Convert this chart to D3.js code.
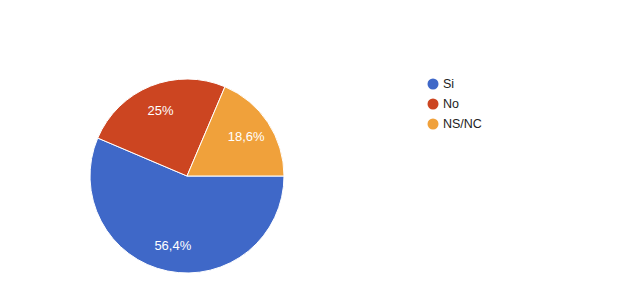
<!DOCTYPE html>
<html>
<head>
<meta charset="utf-8">
<script src="https://cdn.jsdelivr.net/npm/d3@7"></script>
<style>
  body { margin: 0; background: #fff; }
  text { font-family: Arial, "Liberation Sans", sans-serif; }
</style>
</head>
<body>
<script>
const categories = ['Si', 'No', 'NS/NC'];
const values = [56.4, 25, 18.6];
const labels = ['56,4%', '25%', '18,6%'];
const colors = ['#3f68c8', '#cc4521', '#f0a13b'];

const width = 641,
  height = 292;

const cx = 187,
  cy = 176,
  radius = 97;

const svg = d3
  .select('body')
  .append('svg')
  .attr('width', width)
  .attr('height', height);

const color = d3.scaleOrdinal().domain(categories).range(colors);

const pie = d3
  .pie()
  .sort(null)
  .startAngle(Math.PI / 2)
  .endAngle(Math.PI / 2 + 2 * Math.PI)
  .value(d => d.value);

const data = categories.map((c, i) => ({ name: c, value: values[i], label: labels[i] }));
const arcs = pie(data);

const arc = d3.arc().innerRadius(0).outerRadius(radius);
const labelArc = d3.arc().innerRadius(71).outerRadius(71);

const g = svg.append('g').attr('transform', `translate(${cx},${cy})`);

g.selectAll('.slice')
  .data(arcs)
  .enter()
  .append('path')
  .attr('class', 'slice')
  .attr('d', arc)
  .style('fill', d => color(d.data.name))
  .style('stroke', '#ffffff')
  .style('stroke-width', '1px');

g.selectAll('.label')
  .data(arcs)
  .enter()
  .append('text')
  .attr('class', 'label')
  .attr('transform', d => `translate(${labelArc.centroid(d)})`)
  .attr('text-anchor', 'middle')
  .attr('dy', '0.35em')
  .style('fill', '#ffffff')
  .style('font-size', '13px')
  .text(d => d.data.label);

// legend
const legend = svg
  .selectAll('.legend')
  .data(categories)
  .enter()
  .append('g')
  .attr('class', 'legend')
  .attr('transform', (d, i) => `translate(433,${84 + i * 20})`);

legend
  .append('circle')
  .attr('r', 5.5)
  .style('fill', d => color(d));

legend
  .append('text')
  .attr('x', 10)
  .attr('dy', '0.35em')
  .style('font-size', '12.5px')
  .style('fill', '#222')
  .text(d => d);
</script>
</body>
</html>
